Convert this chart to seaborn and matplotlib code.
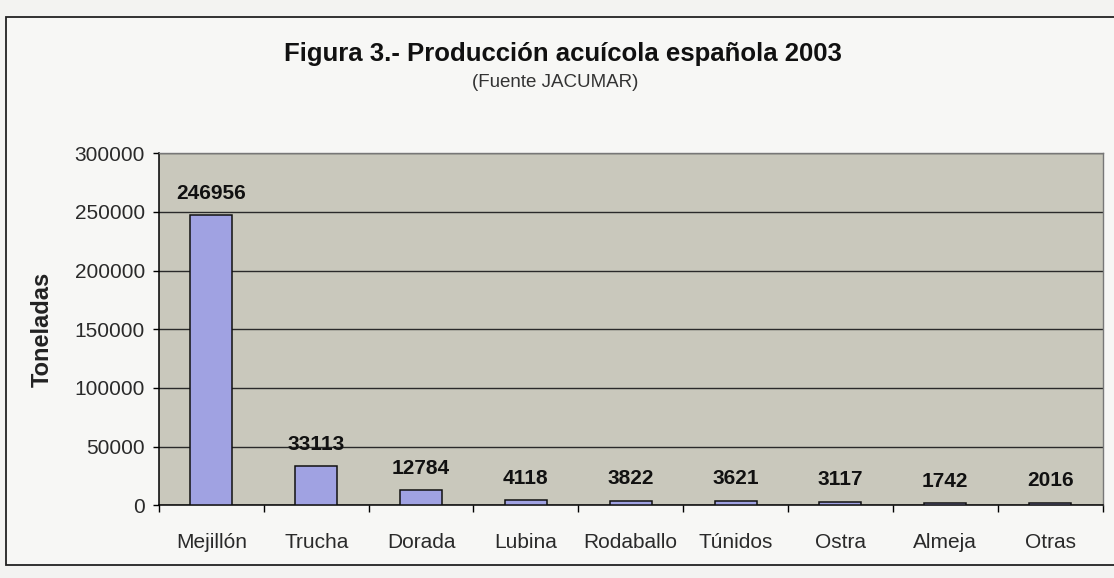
import numpy as np
import pandas as pd
import seaborn as sns
import matplotlib.pyplot as plt
from matplotlib.patches import Rectangle

# Datos (Fuente JACUMAR)
especies = ['Mejillón', 'Trucha', 'Dorada', 'Lubina', 'Rodaballo', 'Túnidos', 'Ostra', 'Almeja', 'Otras']
toneladas = [246956, 33113, 12784, 4118, 3822, 3621, 3117, 1742, 2016]
y_ticks = [0, 50000, 100000, 150000, 200000, 250000, 300000]

df = pd.DataFrame({'especie': especies, 'toneladas': toneladas})

sns.set_style('white')
plt.rcParams['font.family'] = ['Liberation Sans', 'DejaVu Sans']

fig = plt.figure(figsize=(11.14, 5.78), dpi=100)
fig.patch.set_facecolor('#f3f3f1')

# marco del gráfico
fig.patches.append(Rectangle((0.005, 0.022), 1.0, 0.949, transform=fig.transFigure,
                             facecolor='#f7f7f5', edgecolor='#222222', linewidth=1.3, zorder=-5))

ax = fig.add_axes([0.1427, 0.126, 0.847, 0.609])
ax.set_zorder(2)
sns.barplot(data=df, x='especie', y='toneladas', color='#a0a2e2', width=0.4,
            edgecolor='#111111', linewidth=1.1, saturation=1, ax=ax, zorder=3)

ax.set_facecolor('#c9c8bc')
ax.set_ylim(0, 300000)
ax.set_yticks(y_ticks)
ax.set_yticklabels([str(t) for t in y_ticks])
ax.set_xlim(-0.5, len(especies) - 0.5)
ax.yaxis.grid(True, color='#2a2a2a', linewidth=1.0)
ax.set_axisbelow(True)

for s in ['top', 'right']:
    ax.spines[s].set_color('#777777')
    ax.spines[s].set_linewidth(1.0)
for s in ['left', 'bottom']:
    ax.spines[s].set_color('black')
    ax.spines[s].set_linewidth(1.1)

ax.tick_params(axis='y', which='major', left=True, length=4, width=1, color='black',
               labelsize=15, pad=6, labelcolor='#2a2a2a')
ax.tick_params(axis='x', which='major', length=0, labelsize=15, pad=20, labelcolor='#2a2a2a')
ax.set_xticks(np.arange(-0.5, len(especies) + 0.5, 1), minor=True)
ax.tick_params(axis='x', which='minor', bottom=True, length=5, width=1, color='black')

ax.set_xlabel('')
ax.set_ylabel('Toneladas', fontsize=17, fontweight='bold', color='#222222')
ax.yaxis.set_label_coords(-0.111, 0.5)

ax.bar_label(ax.containers[0], labels=[str(v) for v in toneladas], padding=9,
             fontsize=15, fontweight='bold', color='#111111')

fig.text(0.505, 0.907, 'Figura 3.- Producción acuícola española 2003', ha='center', va='center',
         fontsize=18.5, fontweight='bold', color='#111111')
fig.text(0.498, 0.858, '(Fuente JACUMAR)', ha='center', va='center', fontsize=13.5, color='#333333')

fig.savefig('out.png', dpi=100, facecolor=fig.get_facecolor())
